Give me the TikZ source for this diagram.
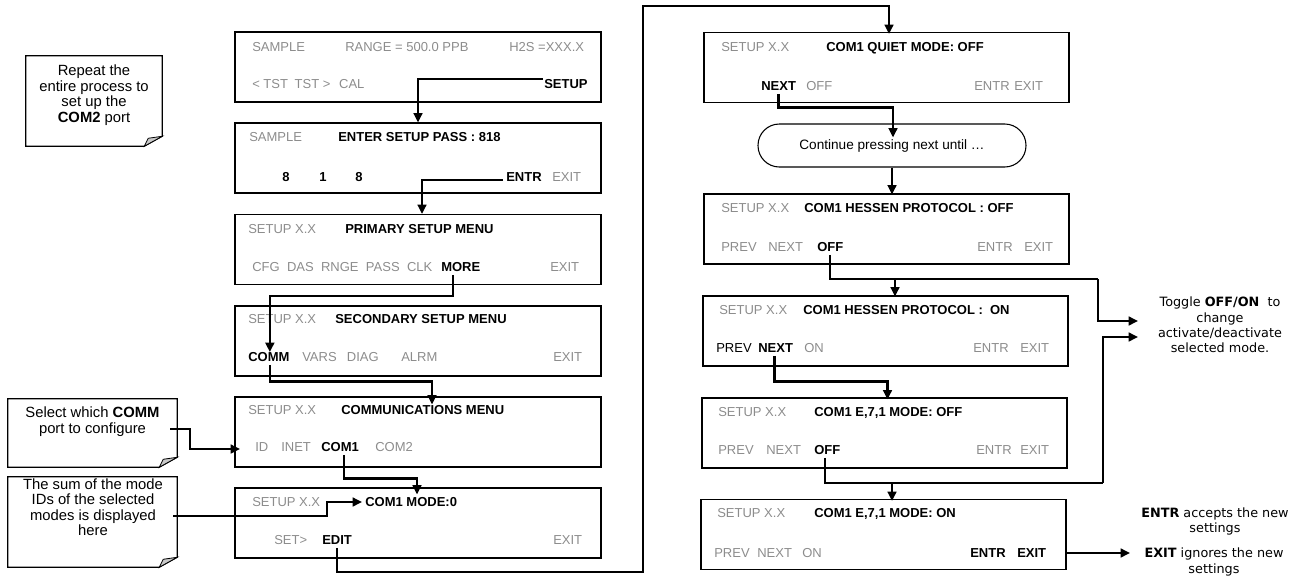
\documentclass[tikz,border=0pt]{standalone}
\usepackage{fontspec}
\setmainfont{Liberation Sans}
\newfontfamily\verdfont{DejaVu Sans}
\usetikzlibrary{arrows.meta,calc}
\definecolor{scrgray}{RGB}{140,140,140}
\definecolor{foldgray}{RGB}{200,200,200}
\newcommand{\boxfont}{\fontsize{9.75pt}{11pt}\selectfont}
\newcommand{\callfont}{\fontsize{11.1pt}{11.6pt}\selectfont}
\newcommand{\notefont}{\verdfont\fontsize{9.6pt}{11.6pt}\selectfont}
\newcommand{\gp}{\hspace{5.5pt}}
\begin{document}
\begin{tikzpicture}[x=0.75pt,y=-0.75pt,
  screen/.style={draw, line width=0.8pt, minimum width=274.5pt, minimum height=52.5pt, inner sep=0pt},
  rscreen/.style={screen, minimum width=273.75pt},
  t/.style={anchor=west, inner sep=0pt, text height=7pt, text depth=0pt, font=\boxfont},
  g/.style={t, text=scrgray},
  k/.style={t},
  b/.style={t, font=\boxfont\bfseries},
  conn/.style={line width=1.8pt, -{Triangle[length=7pt,width=6.5pt]}},
  plain/.style={line width=1.8pt},
  callbox/.style={draw=none, inner sep=0pt, minimum width=126.75pt},
  notebord/.style={draw, line width=0.8pt, fill=white},
  fold/.style={draw, line width=0.6pt, fill=foldgray},
  calltext/.style={font=\callfont, align=center, inner sep=0pt},
  note/.style={font=\notefont, align=center, inner sep=0pt}]
\useasboundingbox (0,0) rectangle (1298,575);

% ---------- left column screens ----------
\node[screen] (b1) at (418,67) {};
\node[screen] (b2) at (418,158) {};
\node[screen] (b3) at (418,249.5) {};
\node[screen] (b4) at (418,341) {};
\node[screen] (b5) at (418,432) {};
\node[screen] (b6) at (418,523) {};

% b1
\node[g] (b1a) at (252,47) {SAMPLE};
\node[g] (b1b) at (345,47) {RANGE = 500.0 PPB};
\node[g] (b1c) at (509,47) {H2S =XXX.X};
\node[g] (b1d) at (252,84) {< TST\hspace{5pt}TST >\hspace{6.5pt}CAL};
\node[b] (setup) at (544,84) {SETUP};
% b2
\node[g] (b2a) at (249,137) {SAMPLE};
\node[b] (b2b) at (338,137) {ENTER SETUP PASS : 818};
\node[b] (b2c) at (282,177) {8};
\node[b] (b2d) at (319,177) {1};
\node[b] (b2e) at (355,177) {8};
\node[b] (entr2) at (506,177) {ENTR};
\node[g] (b2f) at (552,177) {EXIT};
% b3
\node[g] (b3a) at (248,229) {SETUP X.X};
\node[b] (b3b) at (345,229) {PRIMARY SETUP MENU};
\node[g] (b3c) at (252,267) {CFG\gp DAS\gp RNGE\gp PASS\gp CLK};
\node[b] (more) at (441,267) {MORE};
\node[g] (b3d) at (550,267) {EXIT};
% b4
\node[g] (b4a) at (248,319) {SETUP X.X};
\node[b] (b4b) at (335,319) {SECONDARY SETUP MENU};
\node[b] (comm) at (248,357) {COMM};
\node[g] (b4c) at (302,357) {VARS\hspace{7.7pt}DIAG};
\node[g] (b4d) at (401,357) {ALRM};
\node[g] (b4e) at (553,357) {EXIT};
% b5
\node[g] (b5a) at (248,410) {SETUP X.X};
\node[b] (commmenu) at (341,410) {COMMUNICATIONS MENU};
\node[g] (id) at (255,447) {ID};
\node[g] (b5b) at (281,447) {INET};
\node[b] (com1a) at (321,447) {COM1};
\node[g] (b5c) at (375,447) {COM2};
% b6
\node[g] (b6a) at (252,502) {SETUP X.X};
\node[b] (com1mode) at (365,502) {COM1 MODE:0};
\node[g] (b6b) at (274,540) {SET>};
\node[b] (edit) at (322,540) {EDIT};
\node[g] (b6c) at (553,540) {EXIT};

% ---------- right column screens ----------
\node[rscreen] (b7) at (886.5,67.5) {};
\node[draw, line width=0.8pt, rounded corners=16pt, minimum width=201pt, minimum height=32.25pt,
      font=\fontsize{10.2pt}{12pt}\selectfont, inner sep=0pt] (rb) at (892,145.5) {Continue pressing next until …};
\node[rscreen] (b8) at (886.5,229) {};
\node[rscreen] (b9) at (885.5,331) {};
\node[rscreen] (b10) at (884.5,433) {};
\node[rscreen] (b11) at (883.5,534.5) {};

% b7
\node[g] (b7a) at (721,47) {SETUP X.X};
\node[b] (b7b) at (826,47) {COM1 QUIET MODE: OFF};
\node[b] (next7) at (761,86) {NEXT};
\node[g] (b7c) at (806,86) {OFF};
\node[g] (b7d) at (974,86) {ENTR};
\node[g] (b7e) at (1014,86) {EXIT};
% b8
\node[g] (b8a) at (721,208) {SETUP X.X};
\node[b] (b8b) at (804,208) {COM1 HESSEN PROTOCOL : OFF};
\node[g] (b8c) at (721,247) {PREV};
\node[g] (b8d) at (768,247) {NEXT};
\node[b] (off8) at (817,247) {OFF};
\node[g] (b8e) at (977,247) {ENTR};
\node[g] (b8f) at (1024,247) {EXIT};
% b9
\node[g] (b9a) at (719,310) {SETUP X.X};
\node[b] (b9b) at (803,310) {COM1 HESSEN PROTOCOL :\ \ ON};
\node[k] (b9c) at (716,348) {PREV};
\node[b] (next9) at (758,348) {NEXT};
\node[g] (b9d) at (804,348) {ON};
\node[g] (b9e) at (973,348) {ENTR};
\node[g] (b9f) at (1020,348) {EXIT};
% b10
\node[g] (b10a) at (718,412) {SETUP X.X};
\node[b] (b10b) at (814,412) {COM1 E,7,1 MODE: OFF};
\node[g] (b10c) at (718,450) {PREV};
\node[g] (b10d) at (766,450) {NEXT};
\node[b] (off10) at (814,450) {OFF};
\node[g] (b10e) at (976,450) {ENTR};
\node[g] (b10f) at (1020,450) {EXIT};
% b11
\node[g] (b11a) at (717,513) {SETUP X.X};
\node[b] (b11b) at (814,513) {COM1 E,7,1 MODE: ON};
\node[g] (b11c) at (714,553) {PREV};
\node[g] (b11d) at (757,553) {NEXT};
\node[g] (b11e) at (802,553) {ON};
\node[b] (b11f) at (970,553) {ENTR};
\node[b] (exit11) at (1017,553) {EXIT};

% ---------- callouts ----------
\node[callbox, minimum width=102pt, minimum height=67.5pt] (cal1) at (94,101) {};
\node[callbox, minimum height=51pt] (cal2) at (92.5,433) {};
\node[callbox, minimum height=67.5pt] (cal3) at (92.5,522) {};
\foreach \n in {cal1,cal2,cal3}{
  \draw[notebord] (\n.north west) -- (\n.north east) -- ($(\n.south east)+(0,-10)$)
     -- ($(\n.south east)+(-18,0)$) -- (\n.south west) -- cycle;
  \filldraw[fold] ($(\n.south east)+(0,-10)$) -- ($(\n.south east)+(-18,0)$)
     .. controls ($(\n.south east)+(-16,-4)$) .. ($(\n.south east)+(-14,-8)$) -- cycle;
}
\node[calltext] (rep) at (94,95) {Repeat the\\entire process to\\set up the\\\textbf{COM2} port};
\node[calltext] (sel) at (92.5,421.5) {Select which \textbf{COMM}\\port to configure};
\node[calltext] (sum) at (93,507) {The sum of the mode\\IDs of the selected\\modes is displayed\\here};

% ---------- right notes ----------
\node[note] (toggle) at (1220,325) {Toggle \textbf{OFF/ON}\ \ to\\change\\activate/deactivate\\selected mode.};
\node[note] (entrnote) at (1215,521.5) {\textbf{ENTR} accepts the new\\settings};
\node[note] (exitnote) at (1214,562) {\textbf{EXIT} ignores the new\\settings};
\coordinate (tg1) at (1138,321);
\coordinate (tg2) at (1138,337);
\coordinate (tgx) at (1130,553);

% ---------- connectors ----------
\draw[conn] ($(setup.west)+(-1,-5)$) -| (b2.north);
\draw[conn] ($(entr2.west)+(-3,3)$) -| ($(b3.north)+(4,0)$);
\draw[conn] ($(more.south)+(-8,3)$) |- ($(comm.north)+(1,-56)$) -- ($(comm.north)+(1,0)$);
\draw[conn] ($(comm.south)+(1,3)$) |- ($(b5.north)+(14,-15)$) -- ($(b5.north)+(14,8)$);
\draw[conn] ($(com1a.south)+(4,3)$) |- ($(b6.north)+(-1,-9)$) -- ($(b6.north)+(-1,7)$);
\draw[conn] ($(cal2.east)+(-7,-4)$) -- ($(cal2.east)+(13,-4)$) |- ($(id.west)+(-15,2)$);
\draw[conn] ($(cal3.east)+(-4,-6)$) -| ($(com1mode.west)+(-38,0)$) -- ($(com1mode.west)+(-3,0)$);
\draw[conn] ($(edit.south)+(0,3)$) |- (643,572) |- (889,6) -- ($(b7.north)+(2.5,2)$);
\draw[conn] ($(next7.south)+(0,3)$) |- ($(rb.north)+(1,-16)$) -- ($(rb.north)+(1,14)$);
\draw[conn] (rb.south) -- ($(b8.north)+(5.5,1)$);
\draw[plain] ($(off8.south)+(0,3)$) |- (1098,279);
\draw[conn] (1098,279) |- (tg1);
\draw[conn] ($(b9.north)+(9.5,-17)$) -- ($(b9.north)+(9.5,1)$);
\draw[conn] ($(next9.south)+(-1,3)$) |- ($(b10.north)+(3,-16)$) -- ($(b10.north)+(3,2)$);
\draw[plain] ($(off10.south)+(-2,3)$) |- (1103,483);
\draw[conn] (1103,483) |- (tg2);
\draw[conn] ($(b11.north)+(8.5,-16)$) -- ($(b11.north)+(8.5,2)$);
\draw[conn] (b11.east |- exit11.west) -- (tgx);
\end{tikzpicture}
\end{document}
